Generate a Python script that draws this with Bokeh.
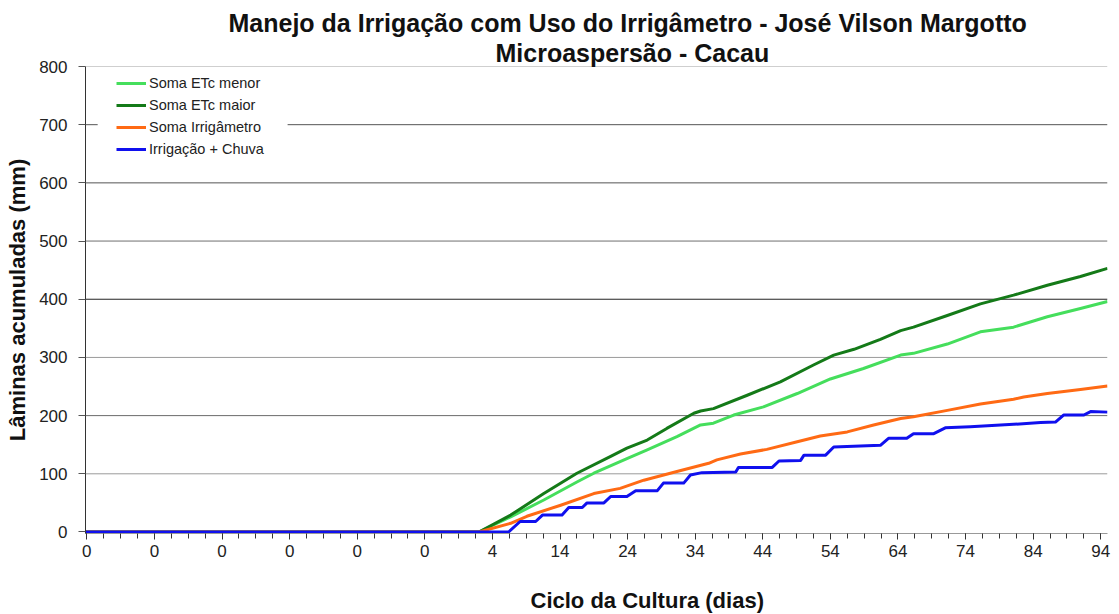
from bokeh.plotting import figure
from bokeh.models import Range1d, FixedTicker, Span, Legend, LegendItem, BoxAnnotation, Title
from bokeh.embed import file_html
from bokeh.resources import INLINE
import numpy as np

# ---------------- data ----------------
title_1 = "Manejo da Irrigação com Uso do Irrigâmetro - José Vilson Margotto"
title_2 = "Microaspersão - Cacau"
x_title = "Ciclo da Cultura (dias)"
y_title = "Lâminas acumuladas (mm)"

series_names = ["Soma ETc menor", "Soma ETc maior", "Soma Irrigâmetro", "Irrigação + Chuva"]

x_menor = [-56.2, 2.0, 6.7, 11.6, 16.5, 19.0, 23.9, 26.9, 31.3, 34.8, 36.7, 39.7, 44.1,
           49.1, 54.0, 58.9, 64.4, 66.3, 71.3, 76.2, 81.1, 86.1, 91.0, 95.0]
y_menor = [0, 0, 26, 55, 86, 101, 126, 141, 164, 184, 187, 201, 215,
           238, 263, 281, 304, 307, 323, 344, 352, 370, 384, 396]

x_maior = [-56.2, 2.0, 6.7, 11.6, 16.5, 21.5, 23.9, 26.9, 29.8, 33.8, 34.8, 36.7, 41.7,
           46.6, 51.5, 54.5, 57.5, 61.4, 64.4, 66.3, 71.3, 76.2, 81.1, 86.1, 91.0, 95.0]
y_maior = [0, 0, 29, 66, 101, 130, 144, 158, 178, 204, 208, 212, 235,
           258, 287, 304, 314, 331, 346, 352, 372, 392, 407, 424, 439, 453]

x_irrig = [-56.2, 2.0, 6.7, 9.1, 14.1, 19.0, 22.9, 26.4, 31.3, 36.0, 37.2, 40.7, 44.6,
           49.1, 52.5, 56.5, 60.4, 64.4, 66.3, 71.3, 76.2, 81.1, 82.6, 86.1, 91.0, 95.0]
y_irrig = [0, 0, 15, 27, 46, 66, 75, 89, 104, 118, 124, 134, 142,
           155, 165, 172, 184, 195, 198, 209, 220, 228, 232, 238, 245, 251]

x_chuva = [-56.2, 6.4, 8.1, 10.4, 11.4, 14.3, 15.3, 17.3, 18.0, 20.5, 21.5, 23.9, 25.2,
           28.4, 29.3, 32.3, 33.3, 35.0, 40.0, 40.4, 45.4, 46.4, 49.6, 50.1, 53.3, 54.5,
           61.4, 62.6, 65.3, 66.3, 69.3, 71.0, 74.7, 81.1, 85.1, 87.3, 88.5, 91.5, 92.5, 95.0]
y_chuva = [0, 0, 18, 18, 29, 29, 42, 42, 50, 50, 61, 61, 71,
           71, 84, 84, 98, 102, 103, 111, 111, 122, 123, 132, 132, 146,
           149, 161, 161, 169, 169, 179, 181, 185, 188, 189, 201, 201, 207, 206]

x_tick_pos = [-56, -46, -36, -26, -16, -6, 4, 14, 24, 34, 44, 54, 64, 74, 84, 94]
x_tick_labels = ["0", "0", "0", "0", "0", "0", "4", "14", "24", "34", "44", "54", "64", "74", "84", "94"]
y_ticks = [0, 100, 200, 300, 400, 500, 600, 700, 800]

# ---------------- styling ----------------
colors = ["#45de5c", "#147a18", "#ff6a14", "#1010ee"]
FONT = "Liberation Sans"

p = figure(width=1119, height=614,
           x_range=Range1d(-56.2, 95.0), y_range=Range1d(-2.6, 800),
           output_backend="svg", toolbar_location=None,
           min_border_left=85, min_border_right=12, min_border_top=66, min_border_bottom=81)
p.outline_line_color = None
p.xgrid.visible = False
p.ygrid.visible = False
p.background_fill_color = "white"

# grid lines (as spans, with the reference's uneven greys)
grid_colors = {100: "#9a9a9a", 200: "#6a6a6a", 300: "#9a9a9a", 400: "#222222",
               500: "#707070", 600: "#555555", 700: "#555555", 800: "#a0a0a0"}
for yv in y_ticks[1:]:
    p.add_layout(Span(location=yv, dimension="width", line_color=grid_colors[yv],
                      line_width=1, level="underlay"))

# white backing of the legend (breaks the 700 grid line)
p.add_layout(BoxAnnotation(left=-54.4, right=-26.3, bottom=640, top=795,
                           fill_color="white", fill_alpha=1.0, line_color=None,
                           level="underlay"))

# x axis
minor = [float(v) for v in np.arange(-56.0, 95.01, 2.5)]
p.xaxis.ticker = FixedTicker(ticks=x_tick_pos, minor_ticks=minor)
p.xaxis.major_label_overrides = {t: l for t, l in zip(x_tick_pos, x_tick_labels)}
p.xaxis.axis_line_color = "#999999"
p.xaxis.major_tick_line_color = "#333333"
p.xaxis.minor_tick_line_color = "#333333"
p.xaxis.major_tick_out = 6
p.xaxis.major_tick_in = 0
p.xaxis.minor_tick_out = 5
p.xaxis.minor_tick_in = 0
p.xaxis.major_label_text_font = FONT
p.xaxis.major_label_text_font_size = "17px"
p.xaxis.major_label_text_color = "#222222"
p.xaxis.major_label_standoff = 5

# y axis
p.yaxis.ticker = FixedTicker(ticks=y_ticks)
p.yaxis.axis_line_color = "#333333"
p.yaxis.major_tick_line_color = "#555555"
p.yaxis.minor_tick_line_color = None
p.yaxis.major_tick_out = 7
p.yaxis.major_tick_in = 0
p.yaxis.major_label_text_font = FONT
p.yaxis.major_label_text_font_size = "17px"
p.yaxis.major_label_text_color = "#222222"
p.yaxis.major_label_standoff = 11
p.yaxis.axis_label = y_title
p.yaxis.axis_label_text_font = FONT
p.yaxis.axis_label_text_font_size = "22px"
p.yaxis.axis_label_text_font_style = "bold"
p.yaxis.axis_label_text_color = "#111111"
p.yaxis.axis_label_standoff = 6

# lines
xs = [x_menor, x_maior, x_irrig, x_chuva]
ys = [y_menor, y_maior, y_irrig, y_chuva]
renderers = []
for x, y, c in zip(xs, ys, colors):
    r = p.line(x, y, line_color=c, line_width=3, line_join="round")
    renderers.append(r)

legend = Legend(items=[LegendItem(label=n, renderers=[r]) for n, r in zip(series_names, renderers)],
                location=(31, 374), orientation="vertical",
                glyph_width=30, glyph_height=20, label_height=20, spacing=2,
                padding=5, margin=0, label_standoff=3,
                label_text_font=FONT, label_text_font_size="14.5px", label_text_color="#222222",
                background_fill_alpha=0.0, border_line_color=None)
p.add_layout(legend)

# titles (added innermost first) and the x axis title
p.add_layout(Title(text=title_2, align="left", offset=410, standoff=0,
                   text_font=FONT, text_font_size="25px", text_font_style="bold",
                   text_color="#111111"), "above")
p.add_layout(Title(text=title_1, align="left", offset=143, standoff=0,
                   text_font=FONT, text_font_size="25px", text_font_style="bold",
                   text_color="#111111"), "above")
# blank spacer between the tick labels and the x axis title
p.add_layout(Title(text=" ", align="left", offset=0, standoff=23,
                   text_font=FONT, text_font_size="1px", text_color="white"), "below")
p.add_layout(Title(text=x_title, align="left", offset=445, standoff=0,
                   text_font=FONT, text_font_size="22px", text_font_style="bold",
                   text_color="#111111"), "below")

open("out.html", "w").write(file_html(p, INLINE))
